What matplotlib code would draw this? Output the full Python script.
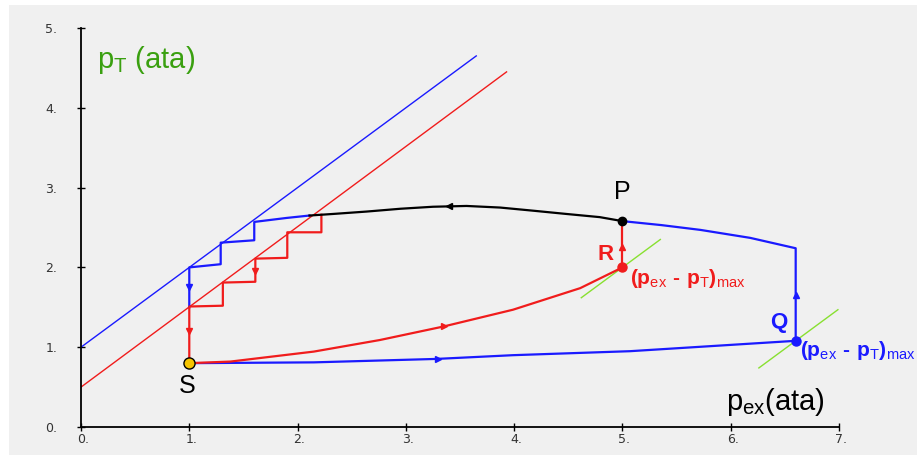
import matplotlib
matplotlib.use('Agg')
import matplotlib.pyplot as plt
from matplotlib.patches import Rectangle
from matplotlib.transforms import ScaledTranslation

plt.rcParams['font.family'] = ['Liberation Sans', 'DejaVu Sans']
plt.rcParams['mathtext.fontset'] = 'custom'
plt.rcParams['mathtext.rm'] = 'Liberation Sans'
plt.rcParams['mathtext.bf'] = 'Liberation Sans:bold'

BLUE = '#1a1aff'
RED = '#f01c1c'
GREEN = '#88e030'
LABEL_GREEN = '#3aa010'

# straight operating lines
BLUE_LINE_X = [0.0, 3.65]
BLUE_LINE_Y = [1.0, 4.65]
RED_LINE_X = [0.0, 3.93]
RED_LINE_Y = [0.5, 4.45]

# staircases
BLUE_STEP_X = [1.0, 1.0, 1.29, 1.29, 1.6, 1.6, 1.9, 2.11]
BLUE_STEP_Y = [1.5, 2.0, 2.04, 2.31, 2.34, 2.57, 2.62, 2.65]
RED_STEP_X = [1.0, 1.0, 1.31, 1.31, 1.61, 1.61, 1.905, 1.905, 2.22, 2.22]
RED_STEP_Y = [0.8, 1.51, 1.52, 1.81, 1.82, 2.11, 2.12, 2.44, 2.44, 2.66]

# black curve up to P
BLACK_X = [2.11, 2.33, 2.64, 2.95, 3.25, 3.56, 3.87, 4.18, 4.48, 4.79, 5.0]
BLACK_Y = [2.65, 2.67, 2.70, 2.735, 2.76, 2.77, 2.75, 2.71, 2.67, 2.63, 2.58]

# blue curve P -> Q
BLUE_UP_X = [5.0, 5.36, 5.72, 6.18, 6.6, 6.6]
BLUE_UP_Y = [2.58, 2.53, 2.47, 2.37, 2.24, 1.08]

# blue S -> Q
BLUE_LOW_X = [1.0, 2.15, 3.28, 3.99, 5.07, 6.6]
BLUE_LOW_Y = [0.8, 0.81, 0.853, 0.90, 0.95, 1.08]

# red S -> R and R -> P
RED_CURVE_X = [1.0, 1.38, 2.15, 2.76, 3.35, 3.99, 4.61, 5.0]
RED_CURVE_Y = [0.8, 0.82, 0.945, 1.09, 1.26, 1.47, 1.74, 2.0]
RED_VERT_X = [5.0, 5.0]
RED_VERT_Y = [2.0, 2.58]

# green tangents
GREEN_R_X = [4.62, 5.35]
GREEN_R_Y = [1.62, 2.35]
GREEN_Q_X = [6.26, 6.99]
GREEN_Q_Y = [0.74, 1.47]

S = (1.0, 0.8)
P = (5.0, 2.58)
R = (5.0, 2.0)
Q = (6.6, 1.08)

fig = plt.figure(figsize=(9.17, 4.55), dpi=100, facecolor='white')
fig.patches.append(Rectangle((9/917, 0), 1, 450/455, transform=fig.transFigure,
                             facecolor='#f0f0f0', edgecolor='none', zorder=-10))
ax = fig.add_axes([81/917, 28/455, 758/917, 399/455])
ax.set_facecolor('none')

ax.plot(BLUE_LINE_X, BLUE_LINE_Y, color=BLUE, lw=1.0)
ax.plot(RED_LINE_X, RED_LINE_Y, color=RED, lw=1.0)
ax.plot(GREEN_R_X, GREEN_R_Y, color=GREEN, lw=1.0)
ax.plot(GREEN_Q_X, GREEN_Q_Y, color=GREEN, lw=1.0)

ax.plot(BLUE_LOW_X, BLUE_LOW_Y, color=BLUE, lw=1.6)
ax.plot(RED_CURVE_X, RED_CURVE_Y, color=RED, lw=1.6)
ax.plot(BLUE_STEP_X, BLUE_STEP_Y, color=BLUE, lw=1.6)
ax.plot(RED_STEP_X, RED_STEP_Y, color=RED, lw=1.6)
ax.plot(BLACK_X, BLACK_Y, color='black', lw=1.6)
ax.plot(BLUE_UP_X, BLUE_UP_Y, color=BLUE, lw=1.6)
ax.plot(RED_VERT_X, RED_VERT_Y, color=RED, lw=1.6)

# direction arrows
ax.plot(1.0, 1.76, marker='v', color=BLUE, ms=4)
ax.plot(1.0, 1.2, marker='v', color=RED, ms=4)
ax.plot(1.61, 1.96, marker='v', color=RED, ms=4)
ax.plot(3.4, 2.765, marker='<', color='black', ms=4)
ax.plot(6.6, 1.66, marker='^', color=BLUE, ms=4)
ax.plot(5.0, 2.25, marker='^', color=RED, ms=4)
ax.plot(3.3, 0.855, marker='>', color=BLUE, ms=4)
ax.plot(3.35, 1.26, marker='>', color=RED, ms=4)

# points
ax.plot(*S, marker='o', ms=8, mfc='#f5c400', mec='black', mew=1, zorder=5)
ax.plot(*P, marker='o', ms=6, color='black', zorder=5)
ax.plot(*R, marker='o', ms=6.5, color=RED, zorder=5)
ax.plot(*Q, marker='o', ms=6.5, color=BLUE, zorder=5)

# labels
ax.text(0.15, 4.6, r'p$_\mathregular{T}$ (ata)', color=LABEL_GREEN, fontsize=21,
        va='center', ha='left')
ax.text(5.96, 0.31, r'p$_\mathregular{ex}$(ata)', color='black', fontsize=21,
        va='center', ha='left')
ax.text(5.0, 2.94, 'P', color='black', fontsize=18, ha='center', va='center')
ax.text(0.98, 0.52, 'S', color='black', fontsize=18, ha='center', va='center')
ax.text(4.84, 2.16, 'R', color=RED, fontsize=16, fontweight='bold',
        ha='center', va='center')
ax.text(6.445, 1.305, 'Q', color=BLUE, fontsize=16, fontweight='bold',
        ha='center', va='center')
MAXLAB = ('$\\mathbf{(p}_{\\mathrm{ex}}\\mathbf{\\ \u2010\\ p}_{\\mathrm{T}}'
          '\\mathbf{)}_{\\mathrm{max}}$')
ax.text(5.07, 1.86, MAXLAB, color=RED, fontsize=15, ha='left', va='center')
ax.text(6.64, 0.96, MAXLAB, color=BLUE, fontsize=15, ha='left', va='center')

ax.set_xlim(0, 7)
ax.set_ylim(0, 5)
ax.spines[['top', 'right']].set_visible(False)
for s in ['left', 'bottom']:
    ax.spines[s].set_linewidth(1.3)
ax.set_xticks(range(8))
ax.set_xticklabels([f'{i}.' for i in range(8)])
ax.set_yticks(range(6))
ax.set_yticklabels([f'{i}.' for i in range(6)])
ax.tick_params(direction='inout', length=6, width=1, labelsize=9,
               labelcolor='#333333')
for lab in ax.get_xticklabels() + ax.get_yticklabels():
    lab.set_family('DejaVu Sans')
ax.tick_params(axis='y', pad=14)
ax.tick_params(axis='x', pad=1)
off = ScaledTranslation(-4/100, 0, fig.dpi_scale_trans)
for lab in ax.get_xticklabels():
    lab.set_horizontalalignment('left')
    lab.set_transform(lab.get_transform() + off)

plt.savefig('out.png', dpi=100, facecolor='white')
plt.close()
